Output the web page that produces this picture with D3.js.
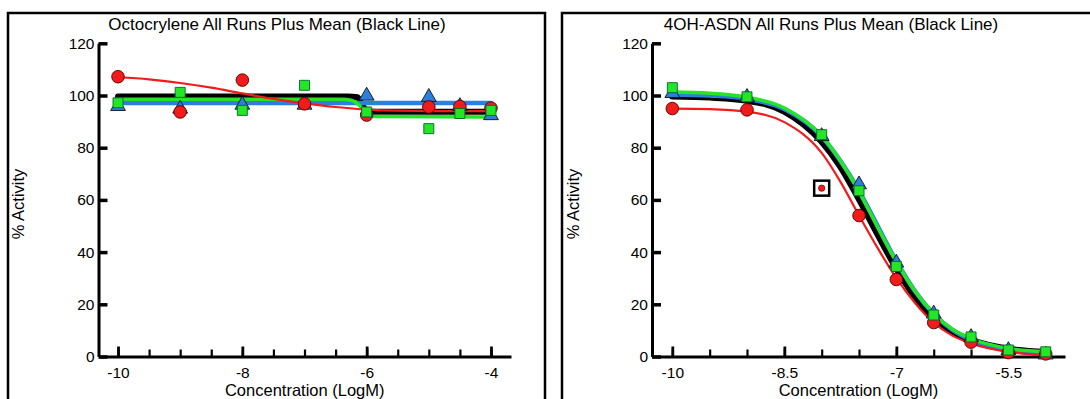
<!DOCTYPE html>
<html><head><meta charset="utf-8">
<script src="https://cdn.jsdelivr.net/npm/d3@7"></script>
<style>
body{margin:0;background:#fff;}
svg{display:block;}
text{font-family:"Liberation Sans",Arial,sans-serif;fill:#000;}
</style>
</head><body>
<svg id="c" width="1090" height="399"></svg>
<script>
// ---------- DATA ----------
const yTicks = [0, 20, 40, 60, 80, 100, 120];

// Octocrylene (left panel)
const octoTitle = "Octocrylene All Runs Plus Mean (Black Line)";
const octoConc = [-10, -9, -8, -7, -6, -5, -4.5, -4];
const octoRed = [107.2, 93.7, 105.9, 96.8, 92.5, 95.6, 95.8, 95.2];
const octoBlue = [95.5, 94.5, 96, 96, 99.5, 99, 95.5, 92];
const octoGreen = [97.2, 101.2, 94.3, 103.9, 93.7, 87.3, 93.1, 94.3];
const octoXMajor = [-10, -8, -6, -4];
const octoXMinor = [-10, -9.5, -9, -8.5, -8, -7.5, -7, -6.5, -6, -5.5, -5, -4.5, -4];
// fitted curves
const octoBlackX = [-10, -6.3, -6.15, -6.05, -5.95, -4];
const octoBlackY = [99.6, 99.6, 99.3, 95.5, 93.8, 93.8];
const octoBlueX = [-10, -7, -6, -5, -4];
const octoBlueY = [97.1, 97.1, 97.1, 97.1, 97.1];
const octoGreenX = [-10, -6.4, -6.25, -6.12, -6.0, -5.88, -4];
const octoGreenY = [98.6, 98.6, 98.2, 96.3, 93.0, 92.0, 91.8];
const octoRedX = [-10, -9.5, -9, -8.5, -8, -7.5, -7, -6.5, -6, -5.5, -5, -4.5, -4];
const octoRedY = [107, 106.2, 104.8, 103, 100.8, 98.7, 97, 95.6, 94.6, 94.2, 94.1, 94, 94];

// 4OH-ASDN (right panel)
const asdnTitle = "4OH-ASDN All Runs Plus Mean (Black Line)";
const asdnConc = [-10, -9, -8, -7.5, -7, -6.5, -6, -5.5, -5];
const asdnRed = [95, 94.5, 64.5, 54, 29.5, 13, 5.5, 1.5, 1];
const asdnBlue = [100.5, 99, 84, 65.5, 35.5, 16, 7, 2, 0.3];
const asdnGreen = [103, 99.5, 85, 63.5, 34.5, 15.9, 7.5, 2.5, 1.8];
const asdnRedFlagged = [-8];
const asdnXMajor = [-10, -8.5, -7, -5.5];
const asdnXMinor = [-10, -9.5, -9, -8.5, -8, -7.5, -7, -6.5, -6, -5.5, -5];
const asdnCurveX = [-10, -9.5, -9, -8.5, -8, -7.75, -7.5, -7.25, -7, -6.75, -6.5, -6.25, -6, -5.5, -5];
const asdnBlackY = [99.8, 99.4, 98.2, 94, 82.5, 73, 60.5, 47, 34, 23, 14.8, 9.5, 6.2, 2.8, 1.6];
const asdnBlueY = [100.4, 100, 98.8, 94.8, 84.3, 75, 63.5, 50, 36.5, 25, 16.3, 10.2, 6.4, 2.5, 1.0];
const asdnGreenY = [101.3, 100.9, 99.4, 95.2, 84.5, 75, 63.2, 49.5, 36.3, 25, 16.4, 10.5, 6.9, 3.1, 1.8];
const asdnRedY = [95, 94.8, 93.8, 89.8, 78, 67, 54, 41.5, 30, 20.5, 13, 8, 5, 1.8, 0.6];

// ---------- DRAWING ----------
const COL = {red: "#f21b1b", green: "#25e625", blue: "#2a80dc", black: "#000"};
const svg = d3.select("#c");
svg.append("rect").attr("width", 1090).attr("height", 399).attr("fill", "#fff");

const panels = [
  {
    frame: {x: 8, y: 13, w: 537, h: 420}, title: octoTitle, titleX: 277,
    xRange: [98.5, 511], xDomain: [-10.314, -3.678], major: octoXMajor, minor: octoXMinor,
    fmt: d => String(d),
    yLabelX: 24,
    curves: [
      {x: octoBlackX, y: octoBlackY, c: COL.black, w: 6},
      {x: octoBlueX, y: octoBlueY, c: COL.blue, w: 4.5},
      {x: octoGreenX, y: octoGreenY, c: COL.green, w: 3.5},
      {x: octoRedX, y: octoRedY, c: COL.red, w: 2.2}
    ],
    conc: octoConc, red: octoRed, blue: octoBlue, green: octoGreen, flagged: []
  },
  {
    frame: {x: 562, y: 13, w: 538, h: 420}, title: asdnTitle, titleX: 831,
    xRange: [652, 1065], xDomain: [-10.272, -4.742], major: asdnXMajor, minor: asdnXMinor,
    fmt: d => String(d),
    yLabelX: 579,
    curves: [
      {x: asdnCurveX, y: asdnBlackY, c: COL.black, w: 7},
      {x: asdnCurveX, y: asdnBlueY, c: COL.blue, w: 4.5},
      {x: asdnCurveX, y: asdnGreenY, c: COL.green, w: 3.5},
      {x: asdnCurveX, y: asdnRedY, c: COL.red, w: 2.2}
    ],
    conc: asdnConc, red: asdnRed, blue: asdnBlue, green: asdnGreen, flagged: asdnRedFlagged
  }
];

const y = d3.scaleLinear().domain([0, 120]).range([356.5, 43.3]);

panels.forEach(p => {
  const g = svg.append("g");
  g.append("rect").attr("x", p.frame.x).attr("y", p.frame.y).attr("width", p.frame.w).attr("height", p.frame.h)
    .attr("fill", "none").attr("stroke", "#000").attr("stroke-width", 2.5);
  g.append("text").attr("x", p.titleX).attr("y", 30).attr("text-anchor", "middle")
    .style("font-size", "17px").text(p.title);

  const x = d3.scaleLinear().domain(p.xDomain).range(p.xRange);
  const x0 = p.xRange[0];

  // Y axis
  const ya = g.append("g").attr("transform", `translate(${x0},0)`)
    .call(d3.axisLeft(y).tickValues(yTicks).tickSize(-9).tickSizeOuter(0).tickPadding(4));
  ya.select(".domain").attr("stroke-width", 3);
  ya.selectAll(".tick line").attr("stroke-width", 3.5);
  ya.selectAll(".tick text").style("font-size", "15.5px").attr("font-family", null);

  // X axis minor ticks
  const xm = g.append("g").attr("transform", `translate(0,${y(0)})`)
    .call(d3.axisBottom(x).tickValues(p.minor).tickSize(-7).tickSizeOuter(0).tickFormat(""));
  xm.select(".domain").attr("stroke-width", 3);
  xm.selectAll(".tick line").attr("stroke-width", 2.2);
  // X axis major ticks + labels
  const xa = g.append("g").attr("transform", `translate(0,${y(0)})`)
    .call(d3.axisBottom(x).tickValues(p.major).tickSize(-10).tickSizeOuter(0).tickPadding(10).tickFormat(p.fmt));
  xa.select(".domain").remove();
  xa.selectAll(".tick line").attr("stroke-width", 2.8);
  xa.selectAll(".tick text").style("font-size", "15.5px").attr("font-family", null);

  // axis labels
  g.append("text").attr("x", (p.xRange[0] + p.xRange[1]) / 2).attr("y", 396)
    .attr("text-anchor", "middle").style("font-size", "16.5px").text("Concentration (LogM)");
  g.append("text").attr("transform", `translate(${p.yLabelX},204) rotate(-90)`)
    .attr("text-anchor", "middle").style("font-size", "16.5px").text("% Activity");

  // curves
  const line = d3.line().curve(d3.curveMonotoneX);
  p.curves.forEach(cv => {
    const pts = cv.x.map((v, i) => [x(v), y(cv.y[i])]);
    g.append("path").attr("d", line(pts)).attr("fill", "none")
      .attr("stroke", cv.c).attr("stroke-width", cv.w).attr("stroke-linejoin", "round").attr("stroke-linecap", "round");
  });

  // markers: triangles (blue), circles (red), squares (green)
  const tri = d3.symbol().type(d3.symbolTriangle).size(95);
  p.conc.forEach((c, i) => {
    g.append("path").attr("d", tri()).attr("transform", `translate(${x(c)},${y(p.blue[i]) - 1})`)
      .attr("fill", COL.blue).attr("stroke", "#111").attr("stroke-width", 0.9);
  });
  p.conc.forEach((c, i) => {
    if (p.flagged.includes(c)) {
      g.append("rect").attr("x", x(c) - 7.5).attr("y", y(p.red[i]) - 7.5).attr("width", 15).attr("height", 15)
        .attr("fill", "#fff").attr("stroke", "#000").attr("stroke-width", 2.5);
      g.append("circle").attr("cx", x(c)).attr("cy", y(p.red[i])).attr("r", 3.2)
        .attr("fill", COL.red).attr("stroke", "#400").attr("stroke-width", 0.6);
    } else {
      g.append("circle").attr("cx", x(c)).attr("cy", y(p.red[i])).attr("r", 6.3)
        .attr("fill", COL.red).attr("stroke", "#500").attr("stroke-width", 0.9);
    }
  });
  const sq = d3.symbol().type(d3.symbolSquare).size(100);
  p.conc.forEach((c, i) => {
    g.append("path").attr("d", sq()).attr("transform", `translate(${x(c)},${y(p.green[i])})`)
      .attr("fill", COL.green).attr("stroke", "#063").attr("stroke-width", 0.9);
  });
});
</script>
</body></html>
